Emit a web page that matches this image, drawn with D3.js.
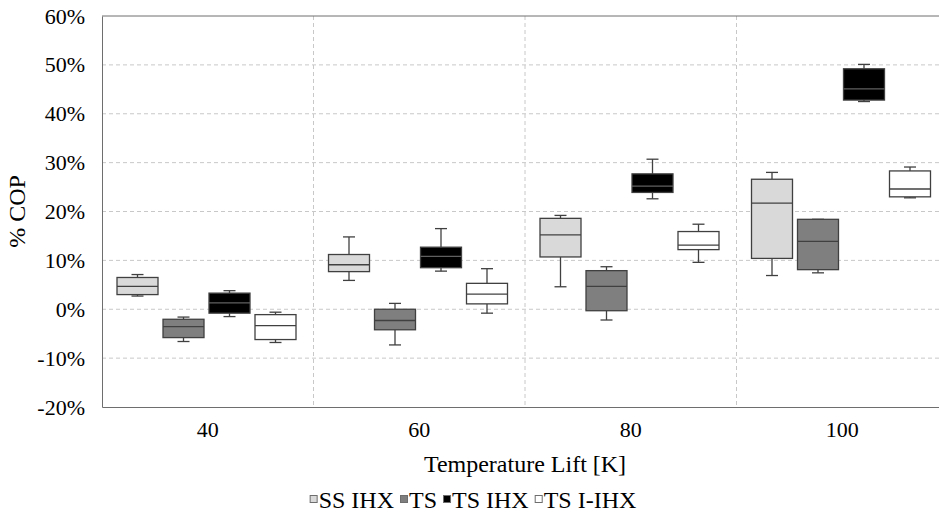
<!DOCTYPE html>
<html>
<head>
<meta charset="utf-8">
<script src="https://cdn.jsdelivr.net/npm/d3@7"></script>
<style>
  body { margin: 0; background: #fff; }
  svg { display: block; font-family: "Liberation Serif", "Times New Roman", serif; }
</style>
</head>
<body>
<svg width="939" height="516"></svg>
<script>
// categories and series
var lifts = ['40', '60', '80', '100'];
var seriesNames = ['SS IHX', 'TS', 'TS IHX', 'TS I-IHX'];
var seriesFill = ['#d9d9d9', '#7f7f7f', '#000000', '#ffffff'];
var yTicks = [-20, -10, 0, 10, 20, 30, 40, 50, 60];

// [min, q1, median, q3, max] per temperature lift, in % COP
var ssIhx   = [[2.7, 3.0, 4.7, 6.5, 7.1], [5.9, 7.7, 9.1, 11.2, 14.8], [4.6, 10.7, 15.2, 18.6, 19.2], [6.9, 10.4, 21.7, 26.6, 28.0]];
var ts      = [[-6.6, -5.8, -3.55, -2.05, -1.6], [-7.3, -4.2, -2.3, 0.0, 1.2], [-2.2, -0.3, 4.7, 7.9, 8.7], [7.45, 8.1, 13.9, 18.4, 18.4]];
var tsIhx   = [[-1.5, -0.8, 1.3, 3.3, 3.8], [7.8, 8.5, 10.8, 12.7, 16.5], [22.6, 23.9, 25.2, 27.7, 30.7], [42.5, 42.8, 45.1, 49.2, 50.1]];
var tsIIhx  = [[-6.8, -6.2, -3.35, -1.1, -0.6], [-0.8, 1.1, 3.1, 5.3, 8.3], [9.6, 12.2, 13.1, 15.9, 17.4], [22.8, 23.0, 24.6, 28.3, 29.1]];

var seriesData = [ssIhx, ts, tsIhx, tsIIhx];

var svg = d3.select('svg');
var plotLeft = 102, plotRight = 948, plotTop = 16, plotBottom = 407;

var x = d3.scaleBand().domain(lifts).range([plotLeft, plotRight]).padding(0);
var xInner = d3.scaleBand().domain(seriesNames).range([15, 194]).paddingInner(5 / 46).paddingOuter(0);
var y = d3.scaleLinear().domain([-20, 60]).range([plotBottom, plotTop]);

var tickSize = 22, titleSize = 24;

// gridlines
svg.append('g').selectAll('line')
	.data(yTicks.filter(function(d){ return d > -20 && d < 60; }))
	.enter().append('line')
	.attr('x1', plotLeft).attr('x2', plotRight)
	.attr('y1', function(d){ return y(d); })
	.attr('y2', function(d){ return y(d); })
	.attr('stroke', '#c8c8c8')
	.attr('stroke-dasharray', '4,3');

svg.append('g').selectAll('line')
	.data(lifts.slice(1))
	.enter().append('line')
	.attr('x1', function(d){ return x(d); })
	.attr('x2', function(d){ return x(d); })
	.attr('y1', plotTop).attr('y2', plotBottom)
	.attr('stroke', '#c8c8c8')
	.attr('stroke-dasharray', '4,3');

// top border
svg.append('line')
	.attr('x1', plotLeft).attr('x2', plotRight)
	.attr('y1', plotTop).attr('y2', plotTop)
	.attr('stroke', '#6e6e6e');

// axes
var yAxis = svg.append('g')
	.attr('transform', 'translate(' + plotLeft + ',0)')
	.call(d3.axisLeft(y).tickValues(yTicks).tickSize(0).tickPadding(17).tickFormat(function(d){ return d + '%'; }));
var xAxis = svg.append('g')
	.attr('transform', 'translate(0,' + plotBottom + ')')
	.call(d3.axisBottom(x).tickSize(0).tickPadding(14));

[yAxis, xAxis].forEach(function(ax){
	ax.select('.domain').attr('stroke', '#6e6e6e');
	ax.selectAll('text').attr('font-size', tickSize).attr('fill', '#000')
		.attr('font-family', '"Liberation Serif", "Times New Roman", serif');
});

// boxes
seriesNames.forEach(function(name, si){
	var g = svg.append('g');
	var rows = seriesData[si];
	var bw = xInner.bandwidth();
	var grp = g.selectAll('g').data(rows).enter().append('g')
		.attr('transform', function(d, i){ return 'translate(' + (x(lifts[i]) + xInner(name)) + ',0)'; });

	// whiskers
	grp.append('line')
		.attr('x1', bw / 2).attr('x2', bw / 2)
		.attr('y1', function(d){ return y(d[4]); })
		.attr('y2', function(d){ return y(d[3]); })
		.attr('stroke', '#404040').attr('stroke-width', 1.3);
	grp.append('line')
		.attr('x1', bw / 2).attr('x2', bw / 2)
		.attr('y1', function(d){ return y(d[1]); })
		.attr('y2', function(d){ return y(d[0]); })
		.attr('stroke', '#404040').attr('stroke-width', 1.3);
	grp.append('line')
		.attr('x1', bw / 2 - 6).attr('x2', bw / 2 + 6)
		.attr('y1', function(d){ return y(d[4]); })
		.attr('y2', function(d){ return y(d[4]); })
		.attr('stroke', '#404040').attr('stroke-width', 1.3);
	grp.append('line')
		.attr('x1', bw / 2 - 6).attr('x2', bw / 2 + 6)
		.attr('y1', function(d){ return y(d[0]); })
		.attr('y2', function(d){ return y(d[0]); })
		.attr('stroke', '#404040').attr('stroke-width', 1.3);

	grp.append('rect')
		.attr('x', 0).attr('width', bw)
		.attr('y', function(d){ return y(d[3]); })
		.attr('height', function(d){ return y(d[1]) - y(d[3]); })
		.attr('fill', seriesFill[si])
		.attr('stroke', '#404040').attr('stroke-width', 1.3);

	grp.append('line')
		.attr('x1', 0).attr('x2', bw)
		.attr('y1', function(d){ return y(d[2]); })
		.attr('y2', function(d){ return y(d[2]); })
		.attr('stroke', si === 2 ? '#606060' : '#404040').attr('stroke-width', 1.3);
});

// axis titles
svg.append('text')
	.attr('transform', 'translate(25,' + ((plotTop + plotBottom) / 2) + ') rotate(-90)')
	.attr('text-anchor', 'middle')
	.attr('font-size', titleSize)
	.text('% COP');

svg.append('text')
	.attr('x', (plotLeft + plotRight) / 2).attr('y', 472)
	.attr('text-anchor', 'middle')
	.attr('font-size', titleSize)
	.text('Temperature Lift [K]');

// legend
var legend = svg.append('g');
var lx = 0;
seriesNames.forEach(function(name, i){
	var item = legend.append('g').attr('transform', 'translate(' + lx + ',0)');
	item.append('rect')
		.attr('x', 0.5).attr('y', -12.5)
		.attr('width', 7).attr('height', 7)
		.attr('fill', seriesFill[i])
		.attr('stroke', '#6e6e6e');
	var t = item.append('text')
		.attr('x', 9).attr('y', 0)
		.attr('font-size', titleSize)
		.text(name);
	lx += 9 + t.node().getComputedTextLength() + 6;
});
legend.attr('transform', 'translate(' + (473 - (lx - 6) / 2) + ',508)');
</script>
</body>
</html>
